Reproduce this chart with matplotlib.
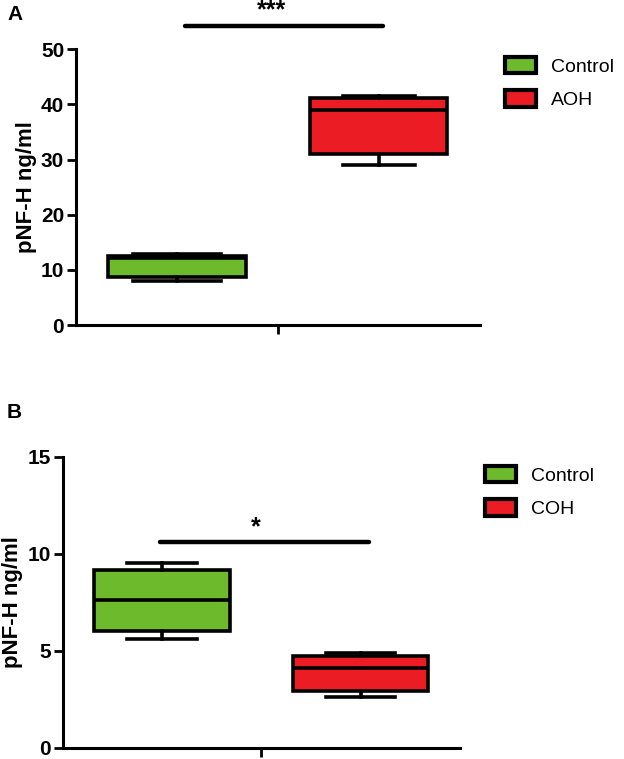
import matplotlib
matplotlib.use("Agg")
import matplotlib.pyplot as plt
from matplotlib.patches import Patch

plt.rcParams['font.family'] = ['Liberation Sans', 'DejaVu Sans']

# panel A: box stats (whislo, q1, med, q3, whishi)
groups_a = ["Control", "AOH"]
whislo_a = [8.0, 29.0]
q1_a = [8.7, 31.0]
med_a = [12.1, 39.0]
q3_a = [12.6, 41.2]
whishi_a = [12.9, 41.5]
sig_a = "***"
sig_y_a = 54.2

# panel B
groups_b = ["Control", "COH"]
whislo_b = [5.6, 2.63]
q1_b = [6.0, 2.94]
med_b = [7.61, 4.09]
q3_b = [9.16, 4.73]
whishi_b = [9.54, 4.9]
sig_b = "*"
sig_y_b = 10.59

yticks_a = [0, 10, 20, 30, 40, 50]
yticks_b = [0, 5, 10, 15]
ylabel = "pNF-H ng/ml"

green = "#6dbb2d"
red = "#ec1c24"
lw = 2.6


def make_stats(groups, whislo, q1, med, q3, whishi):
    stats = []
    for i in range(len(groups)):
        stats.append({"label": groups[i], "whislo": whislo[i], "q1": q1[i],
                      "med": med[i], "q3": q3[i], "whishi": whishi[i], "fliers": []})
    return stats


def draw_panel(ax, stats, capw, yticks, sig, sig_y, sig_x, star_y, legend_pos):
    bp = ax.bxp(stats, positions=[1, 2], widths=0.68, capwidths=capw,
                patch_artist=True, showfliers=False,
                boxprops=dict(linewidth=lw, edgecolor="black"),
                medianprops=dict(color="black", linewidth=lw),
                whiskerprops=dict(color="black", linewidth=lw),
                capprops=dict(color="black", linewidth=lw))
    for patch, c in zip(bp["boxes"], [green, red]):
        patch.set_facecolor(c)

    ax.set_xlim(0.5, 2.5)
    ax.set_ylim(yticks[0], yticks[-1])
    ax.set_yticks(yticks)
    ax.set_xticks([1.5])
    ax.set_xticklabels([""])
    ax.spines["top"].set_visible(False)
    ax.spines["right"].set_visible(False)
    for s in ["left", "bottom"]:
        ax.spines[s].set_linewidth(2.2)
    ax.tick_params(axis="both", width=2.0, length=6.5, labelsize=15, pad=2)
    for lab in ax.get_yticklabels():
        lab.set_fontweight("bold")
    ax.set_ylabel(ylabel, fontsize=16, fontweight="bold", labelpad=3)

    # significance bar
    ax.plot(sig_x, [sig_y, sig_y], color="black", lw=3.2,
            solid_capstyle="round", clip_on=False)
    ax.text(1.47, star_y, sig, ha="center", va="center", fontsize=18,
            fontweight="bold", clip_on=False)

    handles = [Patch(facecolor=green, edgecolor="black", linewidth=3),
               Patch(facecolor=red, edgecolor="black", linewidth=3)]
    fig.legend(handles, [s["label"] for s in stats], loc="upper left",
               bbox_to_anchor=legend_pos, frameon=False, fontsize=14,
               handlelength=1.6, handleheight=0.9, handletextpad=0.75,
               labelspacing=0.75, borderpad=0, borderaxespad=0)


fig = plt.figure(figsize=(6.24, 7.59), dpi=100)

ax_a = fig.add_axes([0.1218, 0.5718, 0.647, 0.3632])
draw_panel(ax_a, make_stats(groups_a, whislo_a, q1_a, med_a, q3_a, whishi_a),
           [0.44, 0.355], yticks_a, sig_a, sig_y_a, [1.04, 2.02], 57.0,
           (505 / 624, 1 - 57 / 759))

ax_b = fig.add_axes([0.1005, 0.0149, 0.6365, 0.3834])
draw_panel(ax_b, make_stats(groups_b, whislo_b, q1_b, med_b, q3_b, whishi_b),
           [0.35, 0.345], yticks_b, sig_b, sig_y_b, [0.99, 2.04], 11.35,
           (485 / 624, 1 - 466 / 759))

fig.text(7 / 624, 1 - 15 / 759, "A", fontsize=15, fontweight="bold", va="center")
fig.text(7 / 624, 1 - 412 / 759, "B", fontsize=15, fontweight="bold", va="center")

fig.savefig("out.png", dpi=100)
